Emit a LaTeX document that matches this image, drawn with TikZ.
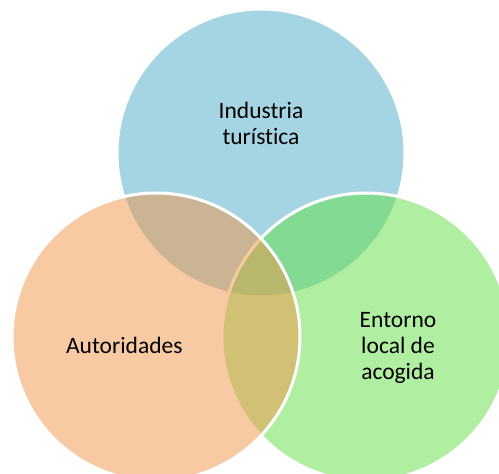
\documentclass[tikz,border=0pt]{standalone}
\usepackage{fontspec}
\setmainfont{Carlito}[Ligatures=NoCommon]
\usepackage{tikz}

\definecolor{cblue}{HTML}{A5D5E2}
\definecolor{cgreen}{HTML}{61DF45}
\definecolor{corange}{HTML}{F19547}

\begin{document}
\begin{tikzpicture}[x=1pt,y=-1pt]
	\tikzset{set/.style={draw=white, line width=3pt, circle, inner sep=0pt, minimum size=288pt},
		lbl/.style={align=center, text=black, font=\fontsize{23.5}{26}\selectfont}}
	\useasboundingbox (0,0) rectangle (499,474);
	\clip (0,0) rectangle (499,474);
	\node [set, fill=cblue] (n1) at (261,153) {};
	\node [set, fill=cgreen, fill opacity=0.5] (n3) at (366,337) {};
	\node [set, fill=corange, fill opacity=0.5] (n2) at (156,337) {};
	\node [lbl] (t1) at (261,123) {Industria\\turística};
	\node [lbl, anchor=base] (t2) at (124.3,353.3) {Autoridades};
	\node [lbl] (t3) at (398,348) {Entorno\\local de\\acogida};
\end{tikzpicture}
\end{document}
